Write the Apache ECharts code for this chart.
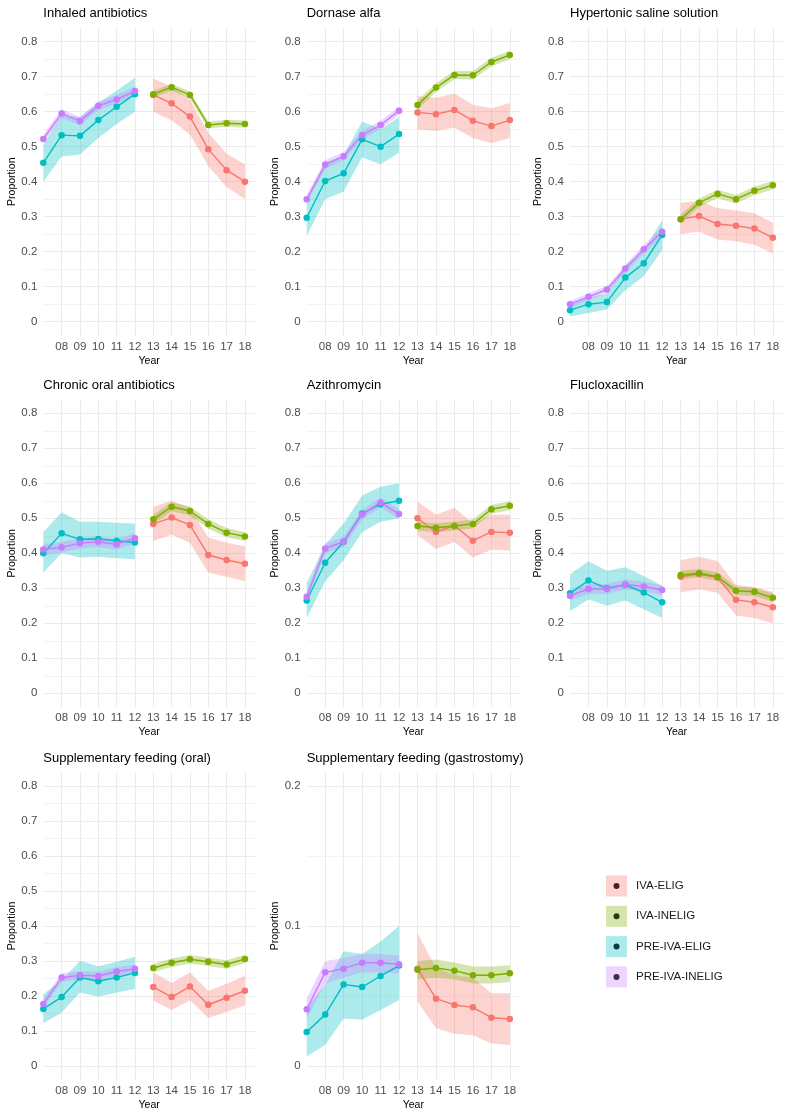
<!DOCTYPE html>
<html><head><meta charset="utf-8">
<script src="https://cdn.jsdelivr.net/npm/echarts@6/dist/echarts.min.js"></script>
<style>html,body{margin:0;padding:0;background:#fff}#c{width:791px;height:1118px}</style>
</head><body><div id="c"></div><script>
// ---------------- DATA ----------------
const panelTitles = ['Inhaled antibiotics','Dornase alfa','Hypertonic saline solution',
  'Chronic oral antibiotics','Azithromycin','Flucloxacillin',
  'Supplementary feeding (oral)','Supplementary feeding (gastrostomy)'];
const seriesNames = ['IVA-ELIG','IVA-INELIG','PRE-IVA-ELIG','PRE-IVA-INELIG'];
const preYears = [7,8,9,10,11,12];
const postYears = [13,14,15,16,17,18];
const xTickLabels = [8,9,10,11,12,13,14,15,16,17,18];
const yMajorTicks = [0,0.1,0.2,0.3,0.4,0.5,0.6,0.7,0.8];
const yMinorTicks = [0.05,0.15,0.25,0.35,0.45,0.55,0.65,0.75];
const yMajorTicksGastro = [0,0.1,0.2];
const yMinorTicksGastro = [0.05,0.15];

// PRE-IVA-ELIG (07..12)
const preEligMean = [
  [0.454,0.533,0.531,0.576,0.614,0.650],
  [0.297,0.402,0.424,0.521,0.500,0.536],
  [0.033,0.050,0.056,0.126,0.167,0.248],
  [0.400,0.457,0.440,0.441,0.436,0.431],
  [0.265,0.373,0.433,0.514,0.540,0.550],
  [0.286,0.322,0.300,0.310,0.288,0.260],
  [0.163,0.197,0.253,0.242,0.253,0.266],
  [0.0243,0.0367,0.0583,0.0564,0.0643,0.0717]];
const preEligLo = [
  [0.400,0.472,0.478,0.525,0.565,0.600],
  [0.245,0.350,0.372,0.470,0.450,0.483],
  [0.015,0.025,0.035,0.090,0.130,0.205],
  [0.345,0.400,0.388,0.390,0.386,0.383],
  [0.215,0.320,0.380,0.460,0.490,0.500],
  [0.235,0.268,0.250,0.265,0.240,0.215],
  [0.122,0.152,0.210,0.198,0.210,0.220],
  [0.007,0.015,0.034,0.033,0.040,0.047]];
const preEligHi = [
  [0.505,0.590,0.585,0.625,0.660,0.697],
  [0.350,0.455,0.475,0.572,0.550,0.585],
  [0.050,0.070,0.080,0.160,0.205,0.290],
  [0.460,0.517,0.490,0.490,0.487,0.485],
  [0.315,0.425,0.485,0.565,0.590,0.600],
  [0.340,0.377,0.350,0.360,0.335,0.307],
  [0.205,0.245,0.300,0.285,0.298,0.312],
  [0.042,0.058,0.082,0.080,0.089,0.100]];

// PRE-IVA-INELIG (07..12)
const preInelMean = [
  [0.522,0.595,0.573,0.617,0.635,0.659],
  [0.350,0.449,0.473,0.533,0.562,0.603],
  [0.050,0.071,0.092,0.152,0.207,0.257],
  [0.411,0.417,0.429,0.433,0.426,0.443],
  [0.276,0.414,0.433,0.511,0.545,0.512],
  [0.279,0.298,0.298,0.311,0.305,0.295],
  [0.177,0.253,0.259,0.257,0.270,0.278],
  [0.0405,0.0669,0.0695,0.0738,0.0738,0.0726]];
const preInelLo = [
  [0.510,0.583,0.561,0.605,0.623,0.647],
  [0.338,0.437,0.461,0.521,0.550,0.591],
  [0.040,0.061,0.082,0.141,0.195,0.244],
  [0.396,0.402,0.414,0.418,0.411,0.428],
  [0.262,0.400,0.419,0.497,0.531,0.498],
  [0.265,0.284,0.284,0.297,0.291,0.281],
  [0.165,0.241,0.247,0.245,0.258,0.266],
  [0.034,0.059,0.063,0.067,0.067,0.066]];
const preInelHi = [
  [0.534,0.607,0.585,0.629,0.647,0.671],
  [0.362,0.461,0.485,0.545,0.574,0.615],
  [0.060,0.081,0.102,0.163,0.219,0.270],
  [0.426,0.432,0.444,0.448,0.441,0.458],
  [0.290,0.428,0.447,0.525,0.559,0.526],
  [0.293,0.312,0.312,0.325,0.319,0.309],
  [0.189,0.265,0.271,0.269,0.282,0.290],
  [0.048,0.075,0.077,0.080,0.080,0.079]];

// IVA-INELIG (13..18)
const ivaInelMean = [
  [0.650,0.670,0.648,0.562,0.567,0.565],
  [0.619,0.669,0.705,0.704,0.742,0.762],
  [0.293,0.340,0.365,0.350,0.374,0.390],
  [0.497,0.533,0.521,0.484,0.459,0.448],
  [0.478,0.473,0.478,0.484,0.526,0.536],
  [0.338,0.343,0.333,0.293,0.290,0.273],
  [0.280,0.295,0.305,0.298,0.290,0.306],
  [0.0688,0.0700,0.0681,0.0648,0.0648,0.0662]];
const ivaInelLo = [
  [0.640,0.660,0.638,0.552,0.557,0.555],
  [0.607,0.657,0.693,0.692,0.730,0.750],
  [0.281,0.328,0.353,0.338,0.362,0.378],
  [0.484,0.520,0.508,0.471,0.446,0.435],
  [0.465,0.460,0.465,0.471,0.513,0.523],
  [0.326,0.331,0.321,0.281,0.278,0.261],
  [0.268,0.283,0.293,0.286,0.278,0.294],
  [0.062,0.063,0.062,0.059,0.059,0.060]];
const ivaInelHi = [
  [0.660,0.680,0.658,0.572,0.577,0.575],
  [0.631,0.681,0.717,0.716,0.754,0.774],
  [0.305,0.352,0.377,0.362,0.386,0.402],
  [0.510,0.546,0.534,0.497,0.472,0.461],
  [0.491,0.486,0.491,0.497,0.539,0.549],
  [0.350,0.355,0.345,0.305,0.302,0.285],
  [0.292,0.307,0.317,0.310,0.302,0.318],
  [0.075,0.076,0.074,0.071,0.071,0.072]];

// IVA-ELIG (13..18)
const ivaEligMean = [
  [0.648,0.624,0.586,0.493,0.433,0.400],
  [0.598,0.593,0.605,0.574,0.559,0.576],
  [0.293,0.302,0.279,0.274,0.266,0.240],
  [0.484,0.502,0.481,0.395,0.381,0.370],
  [0.500,0.461,0.479,0.436,0.461,0.459],
  [0.333,0.341,0.331,0.267,0.260,0.246],
  [0.226,0.197,0.227,0.175,0.195,0.215],
  [0.0695,0.0481,0.0436,0.0419,0.0345,0.0336]];
const ivaEligLo = [
  [0.600,0.575,0.535,0.445,0.385,0.350],
  [0.550,0.545,0.555,0.525,0.510,0.525],
  [0.250,0.258,0.235,0.230,0.220,0.195],
  [0.435,0.453,0.430,0.345,0.333,0.320],
  [0.452,0.412,0.432,0.388,0.410,0.408],
  [0.288,0.297,0.287,0.222,0.215,0.200],
  [0.187,0.160,0.188,0.137,0.155,0.173],
  [0.046,0.027,0.023,0.022,0.016,0.015]];
const ivaEligHi = [
  [0.695,0.672,0.635,0.540,0.480,0.450],
  [0.645,0.640,0.652,0.620,0.610,0.625],
  [0.340,0.345,0.325,0.318,0.310,0.283],
  [0.533,0.550,0.530,0.445,0.430,0.420],
  [0.548,0.510,0.530,0.485,0.510,0.510],
  [0.380,0.390,0.378,0.310,0.303,0.290],
  [0.268,0.237,0.267,0.215,0.235,0.258],
  [0.095,0.070,0.065,0.063,0.052,0.052]];

// ---------------- STYLE / LAYOUT ----------------
const FONT = '"Liberation Sans", Arial, Helvetica, sans-serif';
const colors = ['#F8766D','#7CAE00','#00BFC4','#C77CFF'];
const ribbonColors = ['rgba(248,118,109,0.32)','rgba(124,174,0,0.32)','rgba(0,191,196,0.32)','rgba(199,124,255,0.32)'];
const dotColors = ['#4a2022','#2c3a0c','#0f3c3e','#3c2a4c'];
const colLeft = [43.3, 306.7, 570];
const colWidth = [211.7, 213.3, 213];
const rowTop = [27.7, 399.3, 772];
const rowH = 308;
const titleTop = [5, 377, 750];
const GRID = '#EBEBEB';

const groups = [
  {name: seriesNames[0], years: postYears, mean: ivaEligMean, lo: ivaEligLo, hi: ivaEligHi, ci: 0},
  {name: seriesNames[1], years: postYears, mean: ivaInelMean, lo: ivaInelLo, hi: ivaInelHi, ci: 1},
  {name: seriesNames[2], years: preYears, mean: preEligMean, lo: preEligLo, hi: preEligHi, ci: 2},
  {name: seriesNames[3], years: preYears, mean: preInelMean, lo: preInelLo, hi: preInelHi, ci: 3}
];

const grids = [], xAxes = [], yAxes = [], titles = [], series = [];
panelTitles.forEach(function (t, p) {
  const r = Math.floor(p / 3), c = p % 3;
  const gastro = p === 7;
  grids.push({left: colLeft[c], top: rowTop[r], width: colWidth[c], height: rowH,
    containLabel: false, outerBoundsMode: 'none', show: false});
  titles.push({text: t, left: colLeft[c], top: titleTop[r], padding: 0,
    textStyle: {fontSize: 13, fontWeight: 'normal', color: '#000', fontFamily: FONT, lineHeight: 16}});
  xAxes.push({type: 'value', gridIndex: p, min: 7, max: 18.55,
    axisLine: {show: false},
    axisTick: {show: false, customValues: xTickLabels},
    axisLabel: {customValues: xTickLabels, margin: 5, fontSize: 11.5, color: '#4D4D4D', fontFamily: FONT,
      formatter: function (v) { return (v < 10 ? '0' : '') + v; }},
    splitLine: {show: true, lineStyle: {color: GRID, width: 1}},
    minorSplitLine: {show: false},
    name: 'Year', nameLocation: 'middle', nameGap: 19.5,
    nameTextStyle: {fontSize: 10.5, color: '#000', fontFamily: FONT, verticalAlign: 'top'}
  });
  const ymin = gastro ? -0.01 : -0.04, ymax = gastro ? 0.21 : 0.84;
  const maj = gastro ? yMajorTicksGastro : yMajorTicks;
  const mnr = gastro ? yMinorTicksGastro : yMinorTicks;
  yAxes.push({type: 'value', gridIndex: p, min: ymin, max: ymax,
    axisLine: {show: false},
    axisTick: {show: false, customValues: maj},
    axisLabel: {customValues: maj, margin: 6, fontSize: 11.5, color: '#4D4D4D', fontFamily: FONT,
      formatter: function (v) { return String(+v.toFixed(2)); }},
    splitLine: {show: true, lineStyle: {color: GRID, width: 1}},
    name: 'Proportion', nameLocation: 'middle', nameGap: 26, nameRotate: 90,
    nameTextStyle: {fontSize: 10.5, color: '#000', fontFamily: FONT}
  });
  yAxes.push({type: 'value', gridIndex: p, min: ymin, max: ymax, position: 'left',
    axisLine: {show: false},
    axisTick: {show: false, customValues: mnr},
    axisLabel: {show: false, customValues: mnr},
    splitLine: {show: true, lineStyle: {color: GRID, width: 0.6}}
  });
  // ribbons first
  groups.forEach(function (g) {
    series.push({
      type: 'custom', name: g.name, xAxisIndex: p, yAxisIndex: 2 * p, z: 1, silent: true,
      clip: true,
      data: g.years.map(function (x, i) { return [x, g.lo[p][i], g.hi[p][i]]; }),
      encode: {x: 0, y: [1, 2]},
      itemStyle: {color: colors[g.ci]},
      renderItem: function (params, api) {
        if (params.dataIndexInside !== 0) return null;
        const n = params.dataInsideLength;
        const top = [], bot = [];
        for (let i = 0; i < n; i++) {
          top.push(api.coord([api.value(0, i), api.value(2, i)]));
          bot.push(api.coord([api.value(0, i), api.value(1, i)]));
        }
        return {type: 'polygon', shape: {points: top.concat(bot.reverse())},
          style: {fill: ribbonColors[g.ci], stroke: null}};
      }
    });
  });
  groups.forEach(function (g) {
    series.push({
      type: 'line', name: g.name, xAxisIndex: p, yAxisIndex: 2 * p, z: 3,
      data: g.years.map(function (x, i) { return [x, g.mean[p][i]]; }),
      symbol: 'circle', symbolSize: 6.5, showSymbol: true,
      lineStyle: {color: colors[g.ci], width: 1.4},
      itemStyle: {color: colors[g.ci], borderWidth: 0},
      emphasis: {disabled: true}, silent: true
    });
  });
});

const chart = echarts.init(document.getElementById('c'), null, {renderer: 'canvas'});
chart.setOption({
  backgroundColor: '#fff',
  animation: false,
  textStyle: {fontFamily: FONT},
  title: titles,
  grid: grids,
  xAxis: xAxes,
  yAxis: yAxes,
  legend: [
    {orient: 'vertical', left: 606, top: 875.5, padding: 0, itemGap: 9.3,
      itemWidth: 21, itemHeight: 21, selectedMode: false,
      itemStyle: {borderWidth: 0},
      textStyle: {fontSize: 11.5, color: '#1a1a1a', fontFamily: FONT, padding: [0, 0, 0, 4]},
      data: seriesNames.map(function (n, i) { return {name: n, icon: 'rect', itemStyle: {color: ribbonColors[i], borderWidth: 0}}; })},
    {orient: 'vertical', left: 613.5, top: 875.5, padding: 0, itemGap: 9.3,
      itemWidth: 6, itemHeight: 6, selectedMode: false,
      itemStyle: {borderWidth: 0},
      textStyle: {fontSize: 11.5, color: 'rgba(0,0,0,0)', lineHeight: 21, fontFamily: FONT, padding: [0, 0, 0, 4]},
      data: seriesNames.map(function (n, i) { return {name: n, icon: 'circle', itemStyle: {color: dotColors[i], borderWidth: 0}}; })}
  ],
  series: series
});
</script></body></html>
